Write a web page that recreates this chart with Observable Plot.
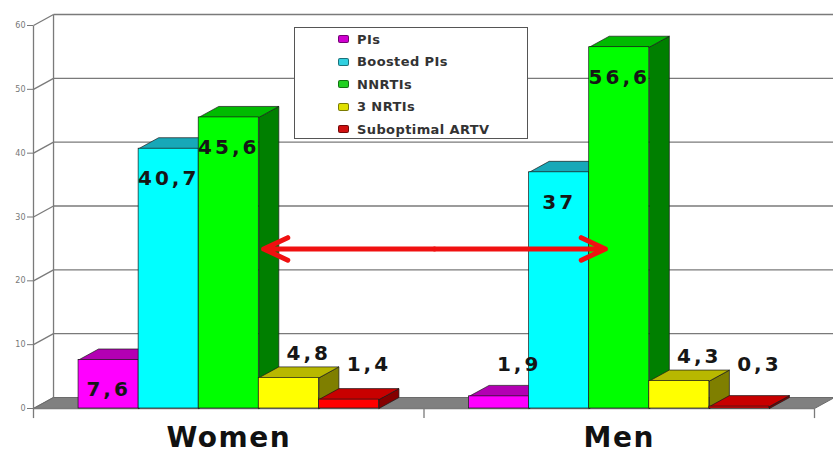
<!DOCTYPE html>
<html>
<head>
<meta charset="utf-8">
<script src="https://cdn.jsdelivr.net/npm/d3@7"></script>
<script src="https://cdn.jsdelivr.net/npm/@observablehq/plot@0.6"></script>
<style>
  html, body { margin: 0; padding: 0; background: #fff; }
  #chart { position: relative; width: 833px; height: 454px; }
  #chart svg g[font-size="20"] { letter-spacing: 3px; }
  #chart svg g[font-size="28"] { letter-spacing: 1.5px; }
  .legend {
    position: absolute; left: 294px; top: 27px; width: 234px; height: 112px;
    box-sizing: border-box; border: 1px solid #555; background: #fff;
    font: bold 13px "DejaVu Sans", sans-serif; letter-spacing: 0.4px; color: #333;
  }
  .legend .item { position: absolute; left: 43px; height: 16px; display: flex; align-items: center; white-space: nowrap; }
  .legend .sw { width: 11px; height: 8px; border-radius: 2px; margin-right: 8px; box-sizing: border-box; border: 1px solid rgba(0,0,0,0.45); }
</style>
</head>
<body>
<div id="chart"></div>
<script>
// ---- data ----
const groups = ["Women", "Men"];
const series = ["PIs", "Boosted PIs", "NNRTIs", "3 NRTIs", "Suboptimal ARTV"];
const womenValues = [7.6, 40.7, 45.6, 4.8, 1.4];
const menValues = [1.9, 37, 56.6, 4.3, 0.3];
const yTicks = [0, 10, 20, 30, 40, 50, 60];
const arrowSeries = "NNRTIs";   // the comparison arrow joins these two bars
const arrowLevel = 25;

// ---- styling ----
const frontColors = ["#ff00ff", "#00ffff", "#00ff00", "#ffff00", "#ff0000"];
const topColors   = ["#b300b3", "#17a8b8", "#00bb00", "#b8b800", "#c80000"];
const sideColors  = ["#7f007f", "#007b80", "#007f00", "#7f7f00", "#850000"];
const legendColors = ["#d000d0", "#30d0e0", "#20d020", "#e0e000", "#d01010"];

// 3D layout in data units: each bar is one slot wide, depth is a third of a slot
const GROUP_STEP = 6.5, GROUP_PAD = 0.75, DX = 1 / 3, DY = 1.72;
const X_MAX = groups.length * GROUP_STEP;
const Y_MAX = yTicks[yTicks.length - 1];

const valuesByGroup = [womenValues, menValues];
const bars = groups.flatMap((group, gi) => valuesByGroup[gi].map((value, si) => {
  const x1 = gi * GROUP_STEP + GROUP_PAD + si;
  return {group, series: series[si], si, value, x1, x2: x1 + 1,
          label: String(value).replace(".", ",")};
}));

const poly = (id, fill, pts) => pts.map(([x, y]) => ({id, fill, x, y}));
const sides = bars.flatMap((b, i) => poly("side" + i, sideColors[b.si],
  [[b.x2, 0], [b.x2 + DX, DY], [b.x2 + DX, b.value + DY], [b.x2, b.value], [b.x2, 0]]));
const tops = bars.flatMap((b, i) => poly("top" + i, topColors[b.si],
  [[b.x1, b.value], [b.x2, b.value], [b.x2 + DX, b.value + DY], [b.x1 + DX, b.value + DY], [b.x1, b.value]]));
const floor = poly("floor", "#808080",
  [[0, 0], [X_MAX, 0], [X_MAX + DX, DY], [DX, DY], [0, 0]]);

const groupCenters = groups.map((group, gi) => ({group, x: gi * GROUP_STEP + GROUP_STEP / 2}));
const groupBounds = d3.range(groups.length + 1).map(i => i * GROUP_STEP);

const fromBar = bars.find(b => b.group === groups[0] && b.series === arrowSeries);
const toBar = bars.find(b => b.group === groups[1] && b.series === arrowSeries);
const ax1 = fromBar.x2 + 0.08, ax2 = toBar.x1 + 0.27, axMid = (ax1 + ax2) / 2;
const arrows = [{x1: axMid, x2: ax1, y: arrowLevel}, {x1: axMid, x2: ax2, y: arrowLevel}];

const barCenter = d => (d.x1 + d.x2) / 2;
const labelFont = {fontFamily: "DejaVu Sans", fontWeight: "bold", fontSize: 20, fill: "#161616"};
const gridStroke = {stroke: "#7a7a7a", strokeWidth: 1.3};

const chart = Plot.plot({
  width: 833,
  height: 454,
  marginTop: 25,
  marginBottom: 46,
  marginLeft: 33,
  marginRight: 19,
  style: {fontFamily: "DejaVu Sans, sans-serif", fontSize: "8px", color: "#777", background: "#fff"},
  x: {domain: [0, X_MAX], axis: null},
  y: {domain: [0, Y_MAX], ticks: yTicks, tickSize: 6, tickPadding: 2, label: null, tickFormat: d => String(d)},
  color: {type: "identity"},
  marks: [
    // back wall grid
    Plot.link(yTicks.filter(t => t > 0), {x1: DX, x2: X_MAX + DX, y1: t => t + DY, y2: t => t + DY, ...gridStroke}),
    Plot.link([0], {x1: DX, x2: DX, y1: DY, y2: Y_MAX + DY, ...gridStroke}),
    // left side wall
    Plot.link(yTicks, {x1: 0, x2: DX, y1: t => t, y2: t => t + DY, ...gridStroke}),
    Plot.link([0], {x1: 0, x2: 0, y1: 0, y2: Y_MAX, ...gridStroke}),
    // floor and front edge
    Plot.line(floor, {x: "x", y: "y", z: "id", fill: "fill", stroke: "#6a6a6a", strokeWidth: 1}),
    Plot.link([0], {x1: 0, x2: X_MAX, y1: 0, y2: 0, ...gridStroke}),
    Plot.link(groupBounds, {x1: d => d, x2: d => d, y1: 0, y2: -1.5, ...gridStroke}),
    // bars: side faces, top faces, then front faces
    Plot.line(sides, {x: "x", y: "y", z: "id", fill: "fill", stroke: "#1a1a1a", strokeWidth: 0.7}),
    Plot.line(tops, {x: "x", y: "y", z: "id", fill: "fill", stroke: "#1a1a1a", strokeWidth: 0.7}),
    Plot.rect(bars, {x1: "x1", x2: "x2", y1: 0, y2: "value", fill: d => frontColors[d.si], stroke: "#1a1a1a", strokeWidth: 0.7}),
    // value labels: inside tall bars, above short ones
    Plot.text(bars.filter(d => d.value >= 6), {x: barCenter, y: "value", dy: 30, text: "label", ...labelFont}),
    Plot.text(bars.filter(d => d.value < 6), {x: barCenter, y: d => Math.max(d.value, 3.1), dx: 20, dy: -24, text: "label", ...labelFont}),
    // group names
    Plot.text(groupCenters, {x: "x", y: 0, dy: 30, text: "group", fontFamily: "DejaVu Sans", fontWeight: "bold", fontSize: 28, fill: "#111"}),
    // comparison arrow between the NNRTI bars
    Plot.arrow(arrows, {x1: "x1", x2: "x2", y1: "y", y2: "y", stroke: "#f01010", strokeWidth: 5, headLength: 8, headAngle: 50})
  ]
});

const root = document.getElementById("chart");
root.appendChild(chart);

// legend box
const legend = d3.select(root).append("div").attr("class", "legend");
series.forEach((name, i) => {
  const item = legend.append("div").attr("class", "item").style("top", (3 + i * 22.5) + "px");
  item.append("span").attr("class", "sw").style("background", legendColors[i]);
  item.append("span").text(name);
});
</script>
</body>
</html>
